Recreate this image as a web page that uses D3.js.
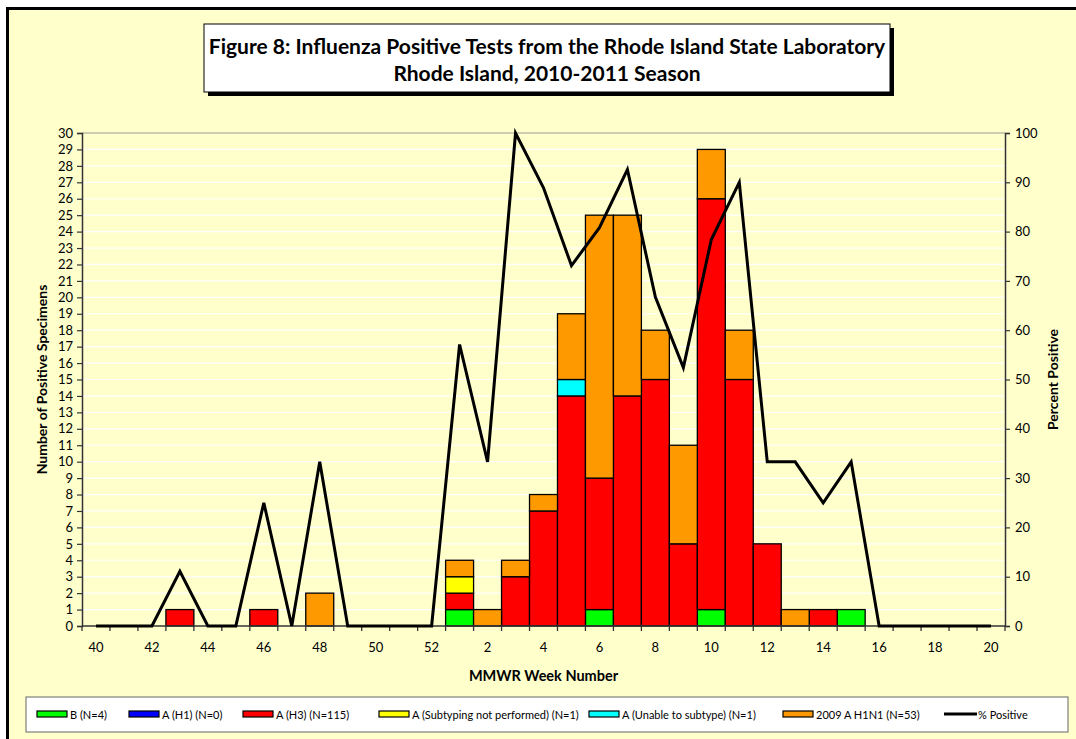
<!DOCTYPE html>
<html>
<head>
<meta charset="utf-8">
<script src="https://cdn.jsdelivr.net/npm/d3@7"></script>
<style>
  body { margin: 0; background: #fff; }
  text { font-family: Lato, "Open Sans", sans-serif; fill: #000; }
</style>
</head>
<body>
<div id="chart"></div>
<script>
// MMWR weeks, 2010-2011 season
const weeks = ['40','41','42','43','44','45','46','47','48','49','50','51','52',
  '1','2','3','4','5','6','7','8','9','10','11','12','13','14','15','16','17','18','19','20'];

// counts per week, one array per virus type
const fluB     = [0,0,0,0,0,0,0,0,0,0,0,0,0, 1,0,0,0,0,1,0,0,0,1,0,0,0,0,1,0,0,0,0,0];
const fluH1    = [0,0,0,0,0,0,0,0,0,0,0,0,0, 0,0,0,0,0,0,0,0,0,0,0,0,0,0,0,0,0,0,0,0];
const fluH3    = [0,0,0,1,0,0,1,0,0,0,0,0,0, 1,0,3,7,14,8,14,15,5,25,15,5,0,1,0,0,0,0,0,0];
const fluNotSub= [0,0,0,0,0,0,0,0,0,0,0,0,0, 1,0,0,0,0,0,0,0,0,0,0,0,0,0,0,0,0,0,0,0];
const fluUnable= [0,0,0,0,0,0,0,0,0,0,0,0,0, 0,0,0,0,1,0,0,0,0,0,0,0,0,0,0,0,0,0,0,0];
const fluH1N1  = [0,0,0,0,0,0,0,0,2,0,0,0,0, 1,1,1,1,4,16,11,3,6,3,3,0,1,0,0,0,0,0,0,0];

// percent positive
const pctPositive = [0,0,0,11.1,0,0,25,0,33.3,0,0,0,0,
  57.1,33.3,100,88.9,73.1,80.8,92.6,66.7,52.4,78.4,90,33.3,33.3,25,33.3,0,0,0,0,0];

const seriesNames = ['B (N=4)','A (H1) (N=0)','A (H3) (N=115)',
  'A (Subtyping not performed) (N=1)','A (Unable to subtype) (N=1)','2009 A H1N1 (N=53)'];
const seriesColors = ['#00ff00','#0000ff','#ff0000','#ffff00','#00ffff','#ff9900'];
const seriesData = [fluB, fluH1, fluH3, fluNotSub, fluUnable, fluH1N1];

const leftTicks = d3.range(0, 31, 1);
const rightTicks = d3.range(0, 101, 10);

const W = 1076, H = 739;
const plot = { left: 82, right: 1005, top: 133, bottom: 626 };

const svg = d3.select('#chart').append('svg')
  .attr('width', W).attr('height', H);

// outer frame
svg.append('rect').attr('x', 0).attr('y', 0).attr('width', W).attr('height', H).attr('fill', '#fff');
svg.append('rect').attr('x', 6).attr('y', 7).attr('width', W).attr('height', H)
  .attr('fill', '#000');
svg.append('rect').attr('x', 9).attr('y', 10).attr('width', W).attr('height', H)
  .attr('fill', '#ffffcc');

const x = d3.scaleBand().domain(weeks).range([plot.left, plot.right]).padding(0);
const y = d3.scaleLinear().domain([0, 30]).range([plot.bottom, plot.top]);
const y2 = d3.scaleLinear().domain([0, 100]).range([plot.bottom, plot.top]);

// gridlines
svg.append('g').selectAll('line')
  .data(leftTicks.slice(1))
  .enter().append('line')
  .attr('x1', plot.left).attr('x2', plot.right)
  .attr('y1', d => y(d)).attr('y2', d => y(d))
  .attr('stroke', d => d === 30 ? '#999' : '#fff')
  .attr('stroke-width', 1.2);

// stacked bars
const rows = weeks.map((w, i) => {
  const r = { week: w };
  seriesNames.forEach((s, k) => { r[s] = seriesData[k][i]; });
  return r;
});
const stacked = d3.stack().keys(seriesNames)(rows);

const layers = svg.append('g').selectAll('g')
  .data(stacked)
  .enter().append('g')
  .attr('fill', (d, i) => seriesColors[i]);

layers.selectAll('rect')
  .data(d => d.filter(p => p[1] > p[0]))
  .enter().append('rect')
  .attr('x', d => x(d.data.week))
  .attr('y', d => y(d[1]))
  .attr('width', x.bandwidth())
  .attr('height', d => y(d[0]) - y(d[1]))
  .attr('stroke', '#000')
  .attr('stroke-width', 1.3);

// axes
const axisColor = '#333';
const leftAxis = svg.append('g')
  .attr('transform', 'translate(' + plot.left + ',0)')
  .call(d3.axisLeft(y).tickValues(leftTicks).tickSize(5).tickPadding(4));
const rightAxis = svg.append('g')
  .attr('transform', 'translate(' + plot.right + ',0)')
  .call(d3.axisRight(y2).tickValues(rightTicks).tickSize(5).tickPadding(5));
const bottomAxis = svg.append('g')
  .attr('transform', 'translate(0,' + plot.bottom + ')')
  .call(d3.axisBottom(x).tickSize(0).tickPadding(17)
    .tickFormat((d, i) => i % 2 === 0 ? d : ''));

// bottom ticks sit on the category boundaries
svg.append('g').selectAll('line')
  .data(d3.range(weeks.length + 1))
  .enter().append('line')
  .attr('x1', i => plot.left + i * x.step())
  .attr('x2', i => plot.left + i * x.step())
  .attr('y1', plot.bottom).attr('y2', plot.bottom + 5)
  .attr('stroke', axisColor).attr('stroke-width', 1.3);

[leftAxis, rightAxis, bottomAxis].forEach(g => {
  g.select('.domain').attr('stroke', axisColor).attr('stroke-width', 1.5);
  g.selectAll('.tick line').attr('stroke', axisColor).attr('stroke-width', 1.2);
  g.selectAll('text').attr('font-family', 'Lato, sans-serif').attr('font-size', 13).attr('fill', '#000');
});
bottomAxis.select('.domain').attr('d', 'M' + plot.left + ',0H' + plot.right);

// percent positive line
svg.append('path')
  .datum(pctPositive)
  .attr('fill', 'none')
  .attr('stroke', '#000')
  .attr('stroke-width', 3)
  .attr('stroke-linejoin', 'miter')
  .attr('d', d3.line()
    .x((d, i) => x(weeks[i]) + x.bandwidth() / 2)
    .y(d => y2(d)));

// axis titles
svg.append('text')
  .attr('transform', 'translate(47,' + ((plot.top + plot.bottom) / 2) + ') rotate(-90)')
  .attr('text-anchor', 'middle')
  .attr('font-weight', 'bold').attr('font-size', 14)
  .text('Number of Positive Specimens');
svg.append('text')
  .attr('transform', 'translate(1058,' + ((plot.top + plot.bottom) / 2) + ') rotate(-90)')
  .attr('text-anchor', 'middle')
  .attr('font-weight', 'bold').attr('font-size', 14)
  .text('Percent Positive');
svg.append('text')
  .attr('x', (plot.left + plot.right) / 2).attr('y', 681)
  .attr('text-anchor', 'middle')
  .attr('font-weight', 'bold').attr('font-size', 14.5)
  .text('MMWR Week Number');

// title box with shadow
svg.append('rect').attr('x', 208).attr('y', 28).attr('width', 686).attr('height', 68).attr('fill', '#000');
svg.append('rect').attr('x', 204).attr('y', 24).attr('width', 686).attr('height', 68)
  .attr('fill', '#fff').attr('stroke', '#000').attr('stroke-width', 1);
svg.append('text').attr('x', 547).attr('y', 54).attr('text-anchor', 'middle')
  .attr('font-weight', 'bold').attr('font-size', 21)
  .text('Figure 8: Influenza Positive Tests from the Rhode Island State Laboratory');
svg.append('text').attr('x', 547).attr('y', 81).attr('text-anchor', 'middle')
  .attr('font-weight', 'bold').attr('font-size', 21)
  .text('Rhode Island, 2010-2011 Season');

// legend
svg.append('rect').attr('x', 26).attr('y', 697).attr('width', 1042).attr('height', 35)
  .attr('fill', '#fff').attr('stroke', '#666').attr('stroke-width', 1);
const legendX = [37, 129, 243, 379, 589, 783];
const legend = svg.append('g').selectAll('g')
  .data(seriesNames)
  .enter().append('g')
  .attr('transform', (d, i) => 'translate(' + legendX[i] + ',711)');
legend.append('rect')
  .attr('width', 30).attr('height', 6)
  .attr('fill', (d, i) => seriesColors[i])
  .attr('stroke', '#000').attr('stroke-width', 1.2);
legend.append('text')
  .attr('x', 33).attr('y', 8)
  .attr('font-size', 11)
  .text(d => d);
const lineLegend = svg.append('g').attr('transform', 'translate(944,714)');
lineLegend.append('line').attr('x1', 0).attr('x2', 33).attr('stroke', '#000').attr('stroke-width', 3);
lineLegend.append('text').attr('x', 34).attr('y', 5).attr('font-size', 11).text('% Positive');
</script>
</body>
</html>
